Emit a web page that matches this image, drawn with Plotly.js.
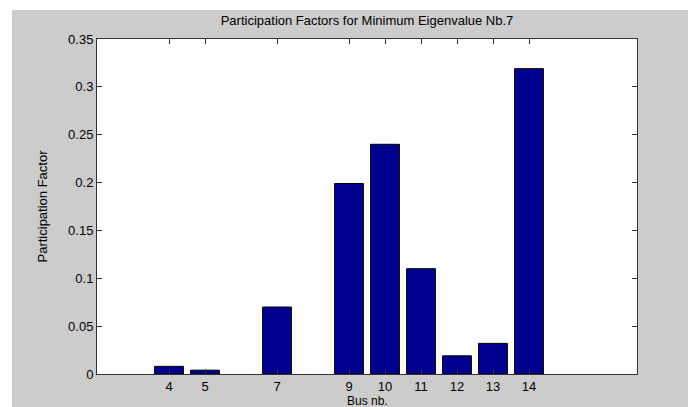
<!DOCTYPE html>
<html>
<head>
<meta charset="utf-8">
<script src="https://cdn.plot.ly/plotly-3.0.1.min.js"></script>
<style>
html, body { margin: 0; padding: 0; background: #ffffff; width: 688px; height: 407px; overflow: hidden; }
#chart { position: absolute; left: 12px; top: 10px; width: 676px; height: 397px; }
</style>
</head>
<body>
<div id="chart"></div>
<script>
// Data
const busNumbers = [4, 5, 7, 9, 10, 11, 12, 13, 14];
const participationFactors = [0.008, 0.004, 0.070, 0.199, 0.240, 0.110, 0.019, 0.032, 0.319];
const xTickValues = [4, 5, 7, 9, 10, 11, 12, 13, 14];
const yTickValues = [0, 0.05, 0.1, 0.15, 0.2, 0.25, 0.3, 0.35];
const yTickLabels = ["0", "0.05", "0.1", "0.15", "0.2", "0.25", "0.3", "0.35"];
const xAxisTitle = "Bus nb.";

const font = "Liberation Sans, Arial, Helvetica, sans-serif";

const trace = {
  type: "bar",
  x: busNumbers,
  y: participationFactors,
  width: 0.8,
  marker: { color: "rgb(0,0,143)", line: { color: "#000000", width: 1 } },
  hoverinfo: "x+y"
};

const layout = {
  width: 676,
  height: 397,
  paper_bgcolor: "#cccccc",
  plot_bgcolor: "#ffffff",
  margin: { l: 85, r: 51, t: 29, b: 33, pad: 0 },
  font: { family: font, size: 13, color: "#000000" },
  title: {
    text: "Participation Factors for Minimum Eigenvalue Nb.7",
    font: { family: font, size: 13, color: "#000000" },
    x: 0.5, xref: "paper", xanchor: "center",
    y: 1 - 10 / 397, yref: "container", yanchor: "middle"
  },
  xaxis: {
    range: [2, 17],
    tickmode: "array",
    tickvals: xTickValues,
    ticktext: xTickValues.map(String),
    ticks: "inside",
    ticklen: 5,
    tickcolor: "#333333",
    showline: true,
    linecolor: "#333333",
    linewidth: 1,
    mirror: "ticks",
    showgrid: false,
    zeroline: false,
    tickfont: { family: font, size: 13 },
    automargin: false
  },
  yaxis: {
    range: [0, 0.35],
    tickmode: "array",
    tickvals: yTickValues,
    ticktext: yTickLabels,
    ticks: "inside",
    ticklen: 5,
    tickcolor: "#333333",
    showline: true,
    linecolor: "#333333",
    linewidth: 1,
    mirror: "ticks",
    showgrid: false,
    zeroline: false,
    tickfont: { family: font, size: 13 },
    automargin: false,
    title: { text: "Participation Factor", font: { family: font, size: 13 }, standoff: 17 }
  },
  annotations: [{
    text: xAxisTitle,
    xref: "paper", yref: "paper",
    x: 0.5, y: -19 / 335,
    xanchor: "center", yanchor: "top",
    showarrow: false,
    borderpad: 0,
    font: { family: font, size: 12, color: "#000000" }
  }],
  showlegend: false
};

Plotly.newPlot("chart", [trace], layout, { displayModeBar: false, staticPlot: true });
</script>
</body>
</html>
